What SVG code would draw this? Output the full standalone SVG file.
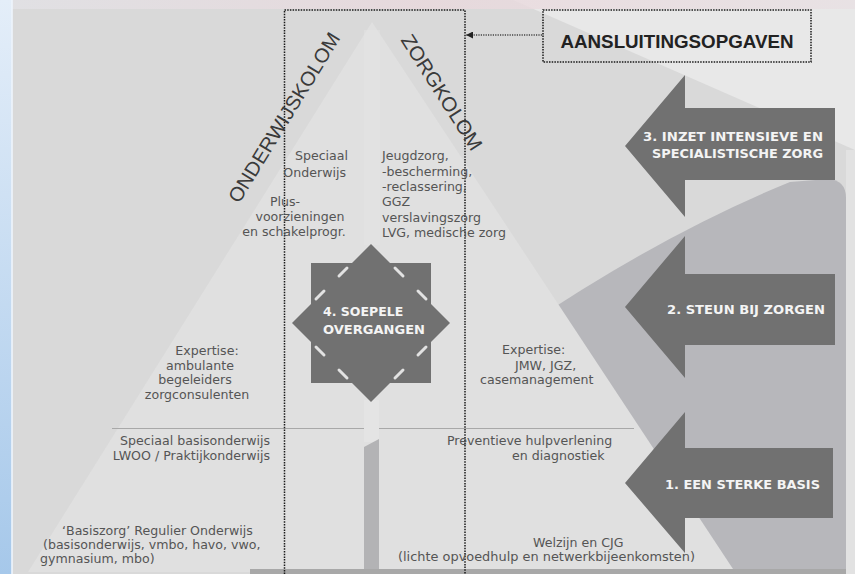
<svg xmlns="http://www.w3.org/2000/svg" width="855" height="574" viewBox="0 0 855 574">
<defs>
<linearGradient id="blue" x1="0" y1="0" x2="0" y2="1">
<stop offset="0" stop-color="#e4eef9"/>
<stop offset="1" stop-color="#a6c8ea"/>
</linearGradient>
<linearGradient id="pink" x1="0" y1="0" x2="1" y2="0">
<stop offset="0" stop-color="#e2e2e6"/>
<stop offset="0.5" stop-color="#ead9dd"/>
<stop offset="1" stop-color="#e8e0e3"/>
</linearGradient>
<marker id="ah" viewBox="0 0 8 8" refX="8" refY="4" markerWidth="7" markerHeight="7" orient="auto-start-reverse" markerUnits="userSpaceOnUse">
<path d="M0,0 L8,4 L0,8 Z" fill="#222"/>
</marker>
<style>
.t{font-family:"DejaVu Sans",Verdana,sans-serif;font-size:12.6px;fill:#555}
.w{font-family:"DejaVu Sans",Verdana,sans-serif;font-size:12.5px;font-weight:bold;fill:#f4f4f4}
.k{font-family:"Liberation Sans",Arial,sans-serif;font-size:20px;fill:#3a3a3a}
.arrow{fill:#717171}
.dot{fill:none;stroke:#1a1a1a;stroke-width:1.5;stroke-dasharray:1.5 1.2}
.notch{stroke:#e2e2e2;stroke-width:3;stroke-linecap:round}
</style>
</defs>
<g id="background">
<rect x="0" y="0" width="855" height="574" fill="#d9d9d9"/>
<polygon points="513,0 855,0 855,150" fill="#e8e8e8"/>
<rect x="846" y="150" width="9" height="424" fill="#e2e2e2"/>
<path d="M520,330 Q660,235 790,182 L828,179 Q846,180 846,198 L846,569 L600,569 Z" fill="#b7b7bb"/>
<polygon points="372,22 28,572 735,572" fill="#e0e0e0"/>
<polygon points="364,30 380,30 380,245 364,245" fill="#e4e4e4" opacity="0.5"/>
<rect x="364" y="400" width="15" height="42" fill="#e4e4e4"/>
<polygon points="364,447 379,439 379,572 364,572" fill="#b3b3b5"/>
<line x1="112" y1="428.5" x2="364" y2="428.5" stroke="#a8a8a8" stroke-width="1"/>
<line x1="379" y1="428.5" x2="634" y2="428.5" stroke="#a8a8a8" stroke-width="1"/>
<rect x="250" y="569" width="596" height="5" fill="#a8a8a8"/>
<rect x="0" y="0" width="855" height="9" fill="url(#pink)" opacity="0.8"/>
<rect x="0" y="0" width="12" height="574" fill="url(#blue)"/>
<rect x="11" y="0" width="2" height="574" fill="#eef4fb" opacity="0.8"/>
</g>
<g id="kolom-frame">
<rect class="dot" x="284.5" y="10" width="180.5" height="570"/>
</g>
<g id="aansluitingsopgaven">
<rect class="dot" x="543" y="10" width="268" height="52"/>
<text x="677" y="48" text-anchor="middle" font-family="Liberation Sans, Arial, sans-serif" font-weight="bold" font-size="18" fill="#222" textLength="233" lengthAdjust="spacingAndGlyphs">AANSLUITINGSOPGAVEN</text>
</g>
<g id="connectors">
<line x1="542" y1="35" x2="466" y2="35" stroke="#444" stroke-width="1.3" stroke-dasharray="1.2 1.2" marker-end="url(#ah)"/>
</g>
<g id="onderwijskolom">
<text class="k" transform="translate(290,121) rotate(-58.5)" text-anchor="middle" textLength="195" lengthAdjust="spacingAndGlyphs">ONDERWIJSKOLOM</text>
<text class="t" x="348" y="160" text-anchor="end">Speciaal</text>
<text class="t" x="346" y="177" text-anchor="end">Onderwijs</text>
<text class="t" x="285" y="206" text-anchor="middle">Plus-</text>
<text class="t" x="300" y="221" text-anchor="middle">voorzieningen</text>
<text class="t" x="294" y="236" text-anchor="middle">en schakelprogr.</text>
</g>
<g id="zorgkolom">
<text class="k" transform="translate(436,96) rotate(57.5)" text-anchor="middle" textLength="133" lengthAdjust="spacingAndGlyphs">ZORGKOLOM</text>
<text class="t" x="382" y="160">Jeugdzorg,</text>
<text class="t" x="382" y="175.5">-bescherming,</text>
<text class="t" x="382" y="191">-reclassering,</text>
<text class="t" x="382" y="206">GGZ</text>
<text class="t" x="382" y="221.5">verslavingszorg</text>
<text class="t" x="382" y="237">LVG, medische zorg</text>
</g>
<g id="expertise-onderwijs">
<text class="t" x="207" y="355" text-anchor="middle">Expertise:</text>
<text class="t" x="200" y="369.5" text-anchor="middle">ambulante</text>
<text class="t" x="195" y="384" text-anchor="middle">begeleiders</text>
<text class="t" x="197" y="399" text-anchor="middle">zorgconsulenten</text>
</g>
<g id="expertise-zorg">
<text class="t" x="502" y="354">Expertise:</text>
<text class="t" x="515" y="370">JMW, JGZ,</text>
<text class="t" x="480" y="384">casemanagement</text>
</g>
<g id="speciaal-basisonderwijs">
<text class="t" x="270" y="445" text-anchor="end">Speciaal basisonderwijs</text>
<text class="t" x="270" y="460" text-anchor="end">LWOO / Praktijkonderwijs</text>
</g>
<g id="preventieve-hulpverlening">
<text class="t" x="447" y="445">Preventieve hulpverlening</text>
<text class="t" x="512" y="460">en diagnostiek</text>
</g>
<g id="basiszorg">
<text class="t" x="62" y="535">‘Basiszorg’ Regulier Onderwijs</text>
<text class="t" x="43" y="549">(basisonderwijs, vmbo, havo, vwo,</text>
<text class="t" x="40" y="563">gymnasium, mbo)</text>
</g>
<g id="welzijn">
<text class="t" x="533" y="547">Welzijn en CJG</text>
<text class="t" x="398" y="561" textLength="297" lengthAdjust="spacingAndGlyphs">(lichte opvoedhulp en netwerkbijeenkomsten)</text>
</g>
<g id="soepele-overgangen">
<polygon class="arrow" points="371,244 450,323 371,402 292,323"/>
<rect class="arrow" x="311" y="263" width="120" height="120"/>
<line class="notch" x1="347" y1="268" x2="339" y2="276"/>
<line class="notch" x1="324" y1="291" x2="316" y2="299"/>
<line class="notch" x1="395" y1="268" x2="403" y2="276"/>
<line class="notch" x1="418" y1="291" x2="426" y2="299"/>
<line class="notch" x1="347" y1="378" x2="339" y2="370"/>
<line class="notch" x1="324" y1="355" x2="316" y2="347"/>
<line class="notch" x1="395" y1="378" x2="403" y2="370"/>
<line class="notch" x1="426" y1="347" x2="418" y2="355"/>
<text class="w" x="323" y="316">4. SOEPELE</text>
<text class="w" x="323" y="334" textLength="102" lengthAdjust="spacingAndGlyphs">OVERGANGEN</text>
</g>
<g id="arrow-3">
<polygon class="arrow" points="625,146 685,75 685,108 835,108 835,180 685,180 685,217"/>
<text class="w" x="823" y="141" text-anchor="end" textLength="180" lengthAdjust="spacingAndGlyphs">3. INZET INTENSIEVE EN</text>
<text class="w" x="823" y="158" text-anchor="end" textLength="171" lengthAdjust="spacingAndGlyphs">SPECIALISTISCHE ZORG</text>
</g>
<g id="arrow-2">
<polygon class="arrow" points="625,307 685,236 685,274 835,274 835,345 685,345 685,378"/>
<text class="w" x="825" y="314" text-anchor="end" textLength="158" lengthAdjust="spacingAndGlyphs">2. STEUN BIJ ZORGEN</text>
</g>
<g id="arrow-1">
<polygon class="arrow" points="625,483 685,412 685,448 833,448 833,518 685,518 685,553"/>
<text class="w" x="820" y="489" text-anchor="end" textLength="155" lengthAdjust="spacingAndGlyphs">1. EEN STERKE BASIS</text>
</g>
</svg>
